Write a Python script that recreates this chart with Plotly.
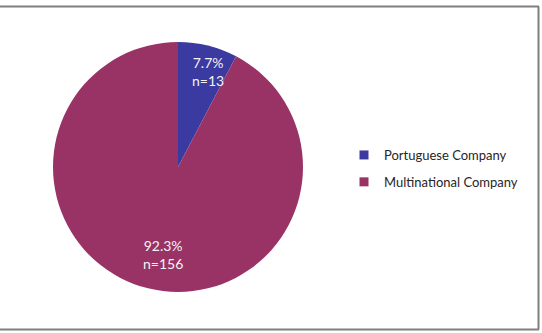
import math
import plotly.graph_objects as go

labels = ["Portuguese Company", "Multinational Company"]
percents = [7.7, 92.3]
counts = [13, 156]
colors = ["#3B3AA0", "#993366"]
label_radius = [0.8, 0.71]
label_angle_offset = [3.6, -4.2]  # degrees

W, H = 542, 333
cx, cy, R = 178, 167, 125  # pixel centre / radius of the pie

fig = go.Figure()
fig.add_trace(go.Pie(
    labels=labels,
    values=counts,
    sort=False,
    direction="clockwise",
    rotation=0,
    marker=dict(colors=colors, line=dict(width=0)),
    textinfo="none",
    hoverinfo="label+value",
    showlegend=False,
    domain=dict(x=[(cx - R) / W, (cx + R) / W], y=[1 - (cy + R) / H, 1 - (cy - R) / H]),
))

# legend entries (square markers)
for lab, col in zip(labels, colors):
    fig.add_trace(go.Scatter(
        x=[None], y=[None], mode="markers", name=lab, legendgroup=lab,
        marker=dict(symbol="square", size=9, color=col),
    ))

# data labels
total = sum(counts)
start = 0.0
annotations = []
for i, (p, n) in enumerate(zip(percents, counts)):
    frac = n / total
    mid = (start + frac / 2) * 2 * math.pi + math.radians(label_angle_offset[i])
    start += frac
    r = label_radius[i] * R
    px = cx + r * math.sin(mid)
    py = cy - r * math.cos(mid)
    annotations.append(dict(
        x=px / W, y=1 - py / H, xref="paper", yref="paper",
        xanchor="center", yanchor="middle",
        text=f"{p}%<br>n={n}", showarrow=False, align="center",
        font=dict(family="Lato", size=14, color="#f2f2f2"),
    ))

fig.update_layout(
    width=W, height=H,
    margin=dict(l=0, r=0, t=0, b=0),
    paper_bgcolor="white",
    plot_bgcolor="white",
    xaxis=dict(visible=False, domain=[0.98, 1]),
    yaxis=dict(visible=False, domain=[0.98, 1]),
    showlegend=True,
    legend=dict(x=344 / W, y=1 - 140 / H, xanchor="left", yanchor="top",
                font=dict(family="Lato", size=13, color="#262626"),
                itemwidth=30, tracegroupgap=7, bgcolor="rgba(0,0,0,0)"),
    annotations=annotations,
    shapes=[
        dict(type="line", xref="paper", yref="paper", x0=0, x1=539 / W, y0=1 - 6.5 / H, y1=1 - 6.5 / H,
             line=dict(color="#7f7f7f", width=2)),
        dict(type="line", xref="paper", yref="paper", x0=0, x1=539 / W, y0=1 - 329.5 / H, y1=1 - 329.5 / H,
             line=dict(color="#7f7f7f", width=2)),
        dict(type="line", xref="paper", yref="paper", x0=538.5 / W, x1=538.5 / W, y0=1 - 6.5 / H, y1=1 - 329.5 / H,
             line=dict(color="#7f7f7f", width=2)),
    ],
)

fig.write_html("out.html")
